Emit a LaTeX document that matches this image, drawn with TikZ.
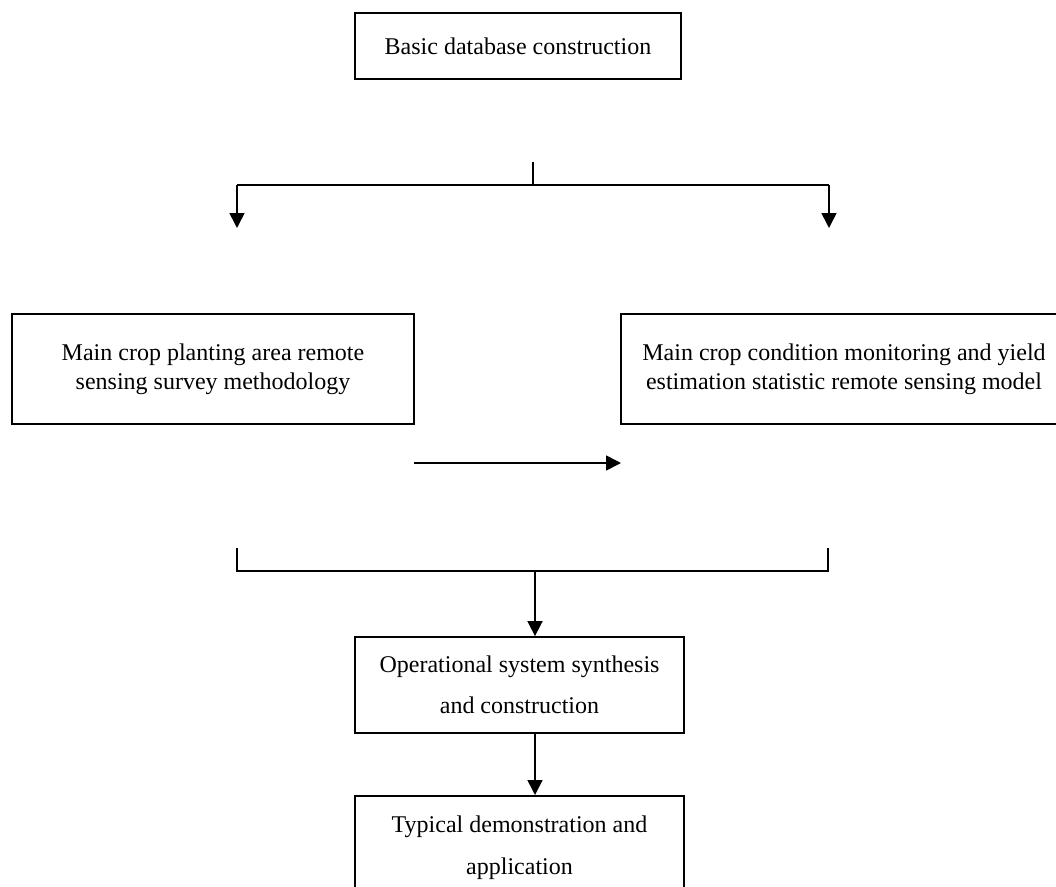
\documentclass[tikz,border=0pt]{standalone}
\usepackage{fontspec}
\setmainfont{Liberation Serif}
\usetikzlibrary{arrows.meta}
\begin{document}
\begin{tikzpicture}[x=1pt,y=-1pt,
  box/.style={draw=black,line width=1.8pt,inner sep=0pt,align=center,
    font=\fontsize{24}{29}\selectfont},
  widebox/.style={box,font=\fontsize{24}{41.5}\selectfont},
  line/.style={draw=black,line width=1.6pt},
  arr/.style={line,-{Triangle[length=15pt,width=15pt]}}]
\path[use as bounding box] (0,0) rectangle (1056,886);
\clip (0,0) rectangle (1056,886);
\fill[white] (0,0) rectangle (1056,886);

\node[box,minimum width=326pt,minimum height=66pt] (top) at (518,46) {Basic database construction};
\node[box,minimum width=402pt,minimum height=110pt] (left) at (213,369)
  {Main crop planting area remote\\sensing survey methodology};
\node[box,minimum width=446pt,minimum height=110pt] (right) at (844,369)
  {Main crop condition monitoring and yield\\estimation statistic remote sensing model};
\node[widebox,minimum width=329pt,minimum height=96pt] (op) at (519.5,685)
  {Operational system synthesis\\and construction};
\node[widebox,minimum width=329pt,minimum height=120pt,anchor=north] (typ) at (519.5,795)
  {Typical demonstration and\\application\\[-20pt]\mbox{}};

% top split
\coordinate (s1) at (533,162);
\coordinate (s2) at (533,185);
\coordinate (bl) at (237,185);
\coordinate (br) at (829,185);
\coordinate (tl) at (237,228);
\coordinate (tr) at (829,228);
\draw[line] (s1) -- (s2);
\draw[line] (bl) -- (br);
\draw[arr] (bl) -- (tl);
\draw[arr] (br) -- (tr);

% horizontal arrow
\coordinate (h1) at (414,463);
\coordinate (h2) at (621,463);
\draw[arr] (h1) -- (h2);

% bottom bracket
\coordinate (k1) at (237,548);
\coordinate (k2) at (237,571);
\coordinate (k3) at (828,571);
\coordinate (k4) at (828,548);
\coordinate (m) at (535,571);
\draw[line] (k1) -- (k2) -- (k3) -- (k4);
\draw[arr] (m) -- (m |- op.north);
\draw[arr] (m |- op.south) -- (m |- typ.north);
\end{tikzpicture}
\end{document}
